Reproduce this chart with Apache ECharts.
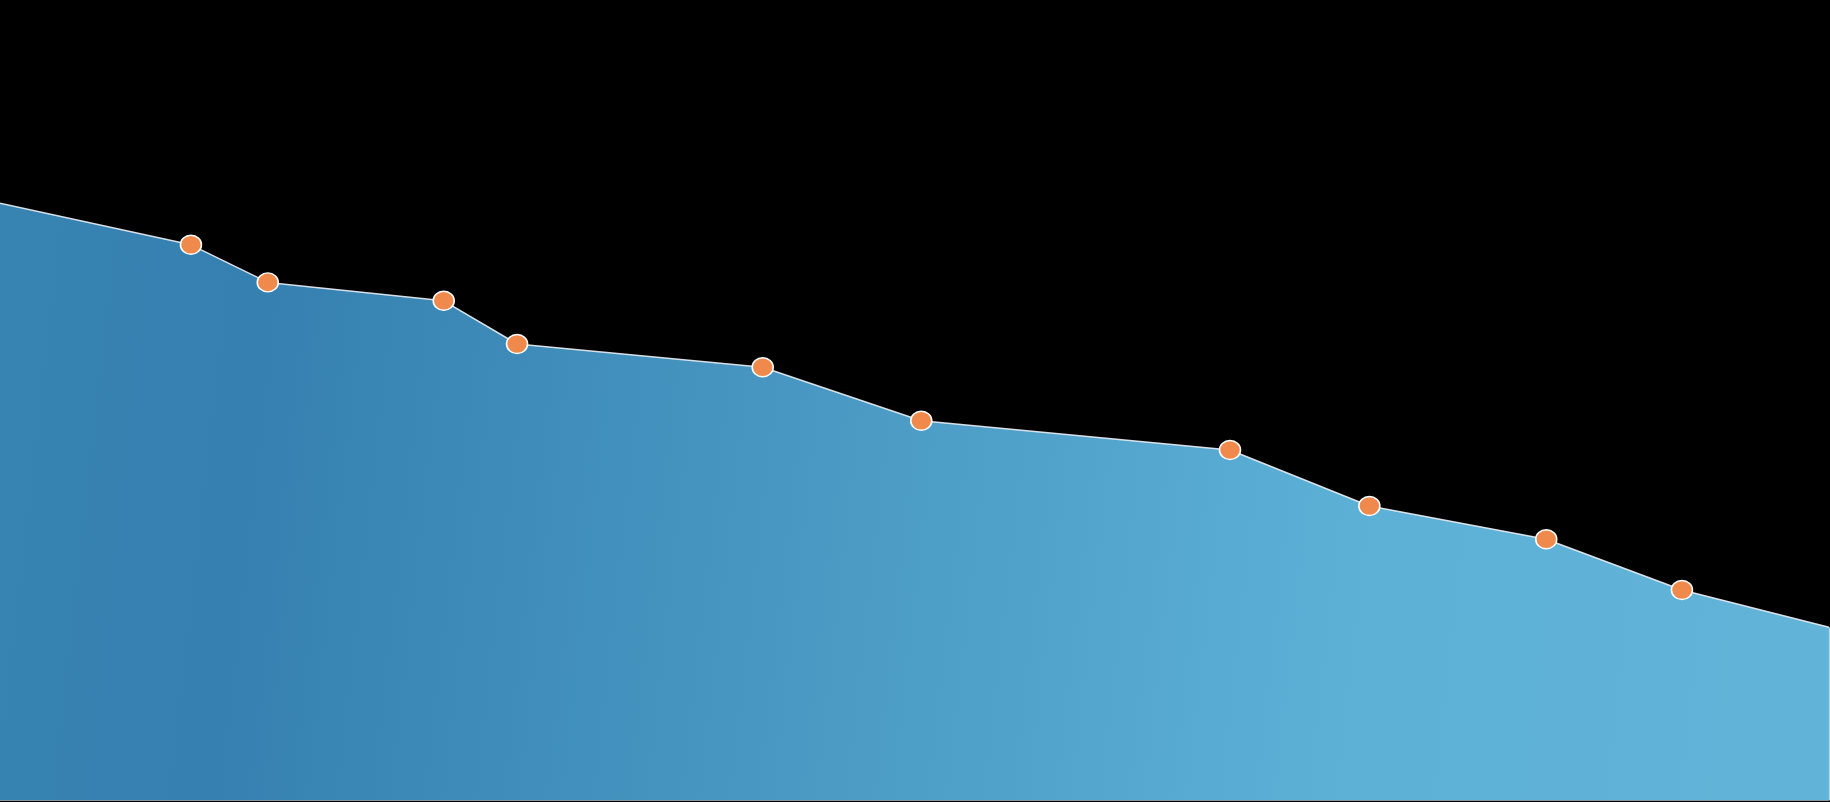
<!DOCTYPE html>
<html>
<head>
<meta charset="utf-8">
<style>
  html, body { margin: 0; padding: 0; background: #000; }
  #chart { width: 1830px; height: 802px; }
</style>
<script src="https://cdn.jsdelivr.net/npm/echarts@6/dist/echarts.min.js"></script>
</head>
<body>
<div id="chart"></div>
<script>
// x positions (0–100 scale) and values (0–100 scale)
const xValues = [0, 10.44, 14.64, 24.26, 28.27, 41.70, 50.37, 67.25, 74.87, 84.54, 91.96, 100];
const yValues = [74.6, 69.4, 64.7, 62.4, 57.0, 54.1, 47.4, 43.75, 36.75, 32.6, 26.25, 21.6];
// which points show a marker (end points run off the edge, no marker)
const showMarker = [false, true, true, true, true, true, true, true, true, true, true, false];

const seriesData = xValues.map((x, i) => {
  const item = { value: [x, yValues[i]] };
  if (!showMarker[i]) item.symbol = 'none';
  return item;
});
const lastX = xValues[xValues.length - 1];
const lastY = yValues[yValues.length - 1];

const chart = echarts.init(document.getElementById('chart'), null, { renderer: 'canvas' });
chart.setOption({
  backgroundColor: '#000000',
  animation: false,
  grid: { left: 0, right: 1, top: 0, bottom: 2 },
  xAxis: {
    type: 'value', min: 0, max: 100,
    axisLine: { show: true, lineStyle: { color: '#a9c6d4', width: 1.5 } },
    axisTick: { show: false }, axisLabel: { show: false }, splitLine: { show: false }
  },
  yAxis: [{
    type: 'value', min: 0, max: 100,
    axisLine: { show: false },
    axisTick: { show: false }, axisLabel: { show: false }, splitLine: { show: false }
  }],
  series: [{
    type: 'line',
    data: seriesData,
    symbol: 'circle',
    symbolSize: [21, 19],
    itemStyle: { color: '#ef8a4c', borderColor: '#ffffff', borderWidth: 1.5 },
    lineStyle: { color: 'rgba(235,240,245,0.9)', width: 1.5 },
    areaStyle: {
      opacity: 1,
      color: new echarts.graphic.LinearGradient(0, 0, 1, 0.35, [
        { offset: 0, color: '#3783b2' },
        { offset: 0.15, color: '#3580b0' },
        { offset: 0.75, color: '#5cb0d6' },
        { offset: 1, color: '#62b3d8' }
      ])
    },
    markLine: {
      silent: true,
      symbol: 'none',
      label: { show: false },
      lineStyle: { color: '#b8d6e6', width: 1.2, type: 'solid' },
      data: [[{ coord: [lastX, 0] }, { coord: [lastX, lastY] }]]
    },
    z: 3
  }]
});
</script>
</body>
</html>
